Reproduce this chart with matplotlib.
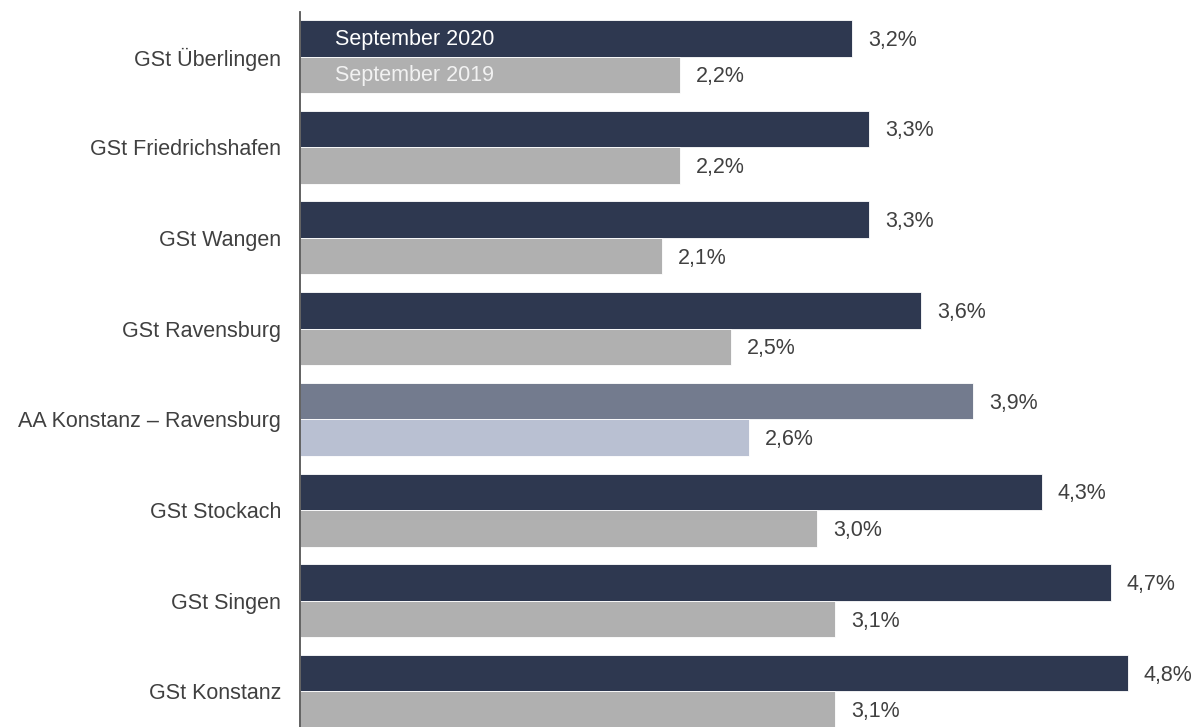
import matplotlib
matplotlib.use("Agg")
import matplotlib.pyplot as plt

categories = ["GSt Überlingen", "GSt Friedrichshafen", "GSt Wangen", "GSt Ravensburg",
              "AA Konstanz – Ravensburg", "GSt Stockach", "GSt Singen", "GSt Konstanz"]
values_2020 = [3.2, 3.3, 3.3, 3.6, 3.9, 4.3, 4.7, 4.8]
values_2019 = [2.2, 2.2, 2.1, 2.5, 2.6, 3.0, 3.1, 3.1]
series_labels = ["September 2020", "September 2019"]
highlight = "AA Konstanz – Ravensburg"

plt.rcParams['font.family'] = ['Liberation Sans', 'DejaVu Sans']

W, H = 1199, 727
fig = plt.figure(figsize=(W / 100, H / 100), dpi=100)
ax = fig.add_axes([300 / W, 0, (W - 300) / W, (727 - 12) / H])

pitch = 90.71
bh = 36.5 / pitch
text_col = "#404040"
fs = 15.5

for i, (cat, v20, v19) in enumerate(zip(categories, values_2020, values_2019)):
    if cat == highlight:
        c20, c19 = "#737B8E", "#B9C0D2"
    else:
        c20, c19 = "#2E3850", "#B0B0B0"
    ax.barh(i - bh / 2, v20, height=bh, color=c20, edgecolor="white", linewidth=0.6)
    ax.barh(i + bh / 2, v19, height=bh, color=c19, edgecolor="white", linewidth=0.6)
    ax.annotate(f"{v20:.1f}%".replace(".", ","), (v20, i - bh / 2), xytext=(16, -2),
                textcoords="offset pixels", va="center", ha="left", fontsize=fs, color=text_col)
    ax.annotate(f"{v19:.1f}%".replace(".", ","), (v19, i + bh / 2), xytext=(16, -2),
                textcoords="offset pixels", va="center", ha="left", fontsize=fs, color=text_col)

ax.annotate(series_labels[0], (0, 0 - bh / 2), xytext=(35, -1), textcoords="offset pixels",
            va="center", ha="left", fontsize=fs, color="white")
ax.annotate(series_labels[1], (0, 0 + bh / 2), xytext=(35, -1), textcoords="offset pixels",
            va="center", ha="left", fontsize=fs, color="#F2F2F2")

ax.set_xlim(0, (W - 300) / 172.5)
ax.set_ylim(7 + 35.5 / pitch, -44.5 / pitch)
ax.set_yticks(range(len(categories)))
ax.set_yticklabels(categories, fontsize=fs, color=text_col)
ax.tick_params(axis="y", length=0, pad=13.5)
ax.set_xticks([])
for s in ["top", "right", "bottom"]:
    ax.spines[s].set_visible(False)
ax.spines["left"].set_color("#555555")
ax.spines["left"].set_linewidth(1.3)

fig.savefig("out.png", dpi=100)
